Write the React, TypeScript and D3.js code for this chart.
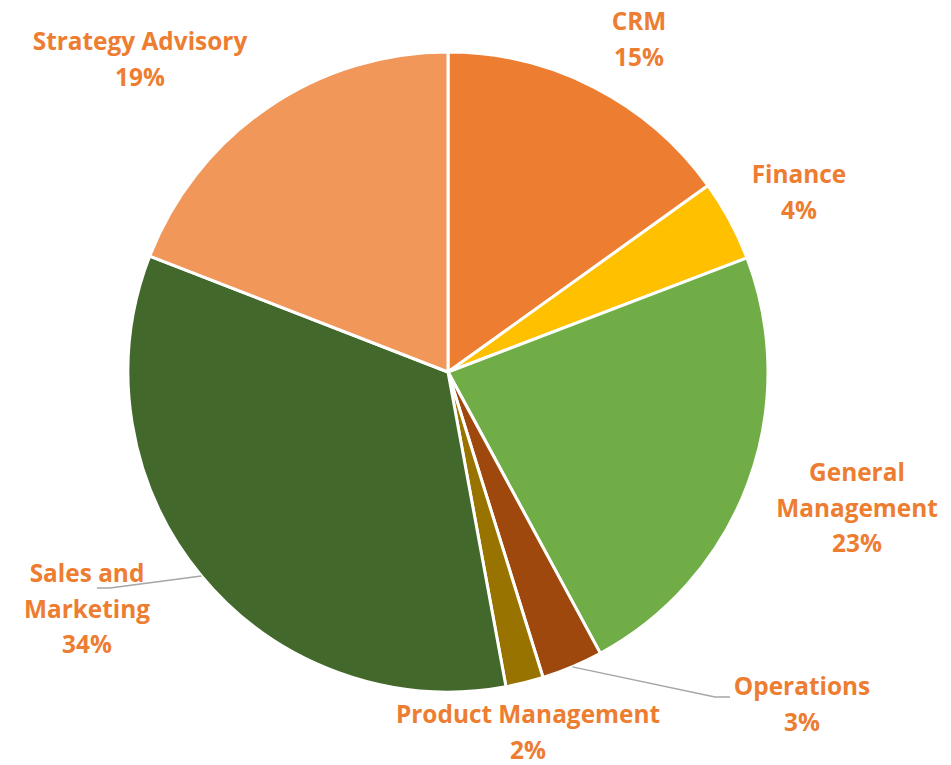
import React, { useEffect, useRef } from "react";
import * as d3 from "d3";

// departments, clockwise from 12 o'clock
const categories = [
  "CRM",
  "Finance",
  "General Management",
  "Operations",
  "Product Management",
  "Sales and Marketing",
  "Strategy Advisory",
];
const shares = [15.1, 4.1, 22.9, 3.1, 1.9, 33.8, 19.1];
const shareLabels = ["15%", "4%", "23%", "3%", "2%", "34%", "19%"];
const colors = ["#ED7D31", "#FFC000", "#70AD47", "#9E480E", "#997300", "#43682B", "#F1975A"];

// label layout (lines, center x, first baseline)
const labelLines = [
  ["CRM"],
  ["Finance"],
  ["General", "Management"],
  ["Operations"],
  ["Product Management"],
  ["Sales and", "Marketing"],
  ["Strategy Advisory"],
];
const labelPos = [
  [639, 30],
  [799, 183],
  [857, 481],
  [802, 695],
  [528, 723],
  [87, 582],
  [140, 50],
];

const App = () => {
  const svgRef = useRef(null);

  useEffect(() => {
    const width = 951;
    const height = 765;
    const cx = 448;
    const cy = 372;
    const radius = 320;

    const svg = d3.select(svgRef.current);
    svg.selectAll("*").remove();

    const data = categories.map((c, i) => ({ name: c, value: shares[i], i }));
    const pie = d3.pie().value((d) => d.value).sort(null);
    const arc = d3.arc().innerRadius(0).outerRadius(radius);
    const arcs = pie(data);

    const g = svg.append("g").attr("transform", `translate(${cx},${cy})`);

    g.selectAll("path")
      .data(arcs)
      .enter()
      .append("path")
      .attr("d", arc)
      .attr("fill", (d) => colors[d.data.i])
      .attr("stroke", "#fff")
      .attr("stroke-width", 3)
      .attr("stroke-linejoin", "round");

    // leader lines for Operations and Sales and Marketing
    const leader = (i, pts) => {
      const a = arcs[i];
      const mid = (a.startAngle + a.endAngle) / 2;
      const start = [cx + Math.sin(mid) * radius, cy - Math.cos(mid) * radius];
      svg
        .append("path")
        .attr("d", d3.line()([start, ...pts]))
        .attr("fill", "none")
        .attr("stroke", "#A6A6A6")
        .attr("stroke-width", 1.5);
    };
    leader(3, [[715, 697], [730, 697]]);
    leader(5, [[110, 588], [97, 588]]);

    // labels
    arcs.forEach((a, i) => {
      const [x, y0] = labelPos[i];
      const t = svg
        .append("text")
        .attr("text-anchor", "middle")
        .attr("font-family", "'Open Sans', sans-serif")
        .attr("font-weight", "bold")
        .attr("font-size", 24.4)
        .attr("fill", "#ED7D31");
      const lines = [...labelLines[i], shareLabels[i]];
      lines.forEach((ln, k) => {
        t.append("tspan").attr("x", x).attr("y", y0 + k * 35.5).text(ln);
      });
    });

    svg.attr("width", width).attr("height", height);
  }, []);

  return (
    <svg
      ref={svgRef}
      width={951}
      height={765}
      style={{ position: "absolute", left: 0, top: 0, background: "#fff" }}
    />
  );
};

export default App;
